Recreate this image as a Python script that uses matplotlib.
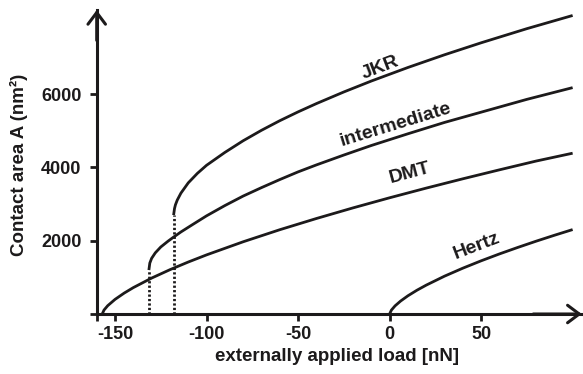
import matplotlib.pyplot as plt

plt.rcParams['font.family'] = ['Liberation Sans', 'DejaVu Sans']
plt.rcParams['font.weight'] = 'bold'

INK = '#1c1a1b'

# contact area vs. external load for the different contact models
hertz_load = [0, 1, 3, 6, 10, 15, 20, 30, 40, 50, 60, 70, 80, 90, 100]
hertz_area = [0, 107, 223, 353, 497, 651, 788, 1033, 1251, 1452, 1640, 1817, 1987, 2149, 2305]

dmt_load = [-157, -156, -154, -150, -145, -140, -130, -120, -110, -100,
            -80, -60, -40, -20, 0, 20, 40, 60, 80, 100]
dmt_area = [0, 109, 227, 399, 571, 721, 981, 1210, 1419, 1614,
            1972, 2301, 2607, 2897, 3173, 3437, 3691, 3936, 4175, 4390]

inter_load = [-131.5, -131, -130, -128, -125, -121, -118, -114, -108, -100,
              -90, -80, -70, -60, -50, -40, -25, -10, 10, 30, 50, 75, 100]
inter_area = [1200, 1390, 1520, 1670, 1830, 1990, 2100, 2240, 2430, 2680,
              2960, 3220, 3450, 3670, 3880, 4070, 4340, 4600, 4920, 5230, 5510, 5860, 6180]

jkr_load = [-118, -117.5, -117, -116, -114, -110, -105, -100, -90, -80, -70,
            -60, -50, -40, -25, -10, 10, 30, 50, 75, 100]
jkr_area = [2700, 2880, 2980, 3110, 3300, 3580, 3840, 4060, 4411, 4730, 5015,
            5277, 5518, 5744, 6062, 6360, 6730, 7077, 7404, 7790, 8150]

# pull-off points (jump out of contact)
pulloff_load = [-131.5, -118]
pulloff_area = [1200, 2700]

x_ticks = [-150, -100, -50, 0, 50]
y_ticks = [2000, 4000, 6000]

fig = plt.figure(figsize=(5.83, 3.74), dpi=100)
ax = fig.add_axes([0.1659, 0.1604, 0.832, 0.8129])

for xs, ys in [(hertz_load, hertz_area), (dmt_load, dmt_area),
               (inter_load, inter_area), (jkr_load, jkr_area)]:
    ax.plot(xs, ys, color=INK, lw=2.0, solid_capstyle='butt')

for x0, y0 in zip(pulloff_load, pulloff_area):
    ax.plot([x0, x0], [0, y0], color=INK, lw=2.0, linestyle=(0, (0.8, 0.8)),
            dash_capstyle='butt')

ax.set_xlim(-160, 105)
ax.set_ylim(0, 8300)

ax.set_xticks([-160] + x_ticks)
ax.set_xticklabels([''] + [str(v) for v in x_ticks])
ax.set_yticks([0] + y_ticks)
ax.set_yticklabels([''] + [str(v) for v in y_ticks])
ax.tick_params(axis='both', direction='out', length=5, width=2, color=INK,
               labelsize=13, labelcolor=INK)
ax.tick_params(axis='x', pad=3.5)
ax.tick_params(axis='y', pad=6)

for side in ['top', 'right']:
    ax.spines[side].set_visible(False)
for side in ['left', 'bottom']:
    ax.spines[side].set_linewidth(2.2)
    ax.spines[side].set_color(INK)

# arrow heads on both axes
arrow = dict(arrowstyle='->,head_length=0.6,head_width=0.45', lw=2.2,
             color=INK, mutation_scale=14, shrinkA=0, shrinkB=0)
ax.annotate('', xy=(1, 0), xytext=(0.9, 0), xycoords='axes fraction',
            arrowprops=arrow, annotation_clip=False)
ax.annotate('', xy=(0, 1), xytext=(0, 0.9), xycoords='axes fraction',
            arrowprops=arrow, annotation_clip=False)

# curve names
labels = [('JKR', -5.2, 6714, 21), ('intermediate', 3.5, 5173, 17),
          ('DMT', 11.2, 3849, 15), ('Hertz', 47.7, 1856, 21)]
for text, lx, ly, rot in labels:
    ax.text(lx, ly, text, fontsize=14, fontweight='bold', color=INK,
            rotation=rot, rotation_mode='anchor', ha='center', va='center')

fig.text(0.578, 0.048, 'externally applied load [nN]', fontsize=13.5,
         fontweight='bold', color=INK, ha='center', va='center')
fig.text(0.032, 0.559, 'Contact area A (nm²)', fontsize=13.5,
         fontweight='bold', color=INK, ha='center', va='center', rotation=90)

fig.savefig('out.png', dpi=100)
